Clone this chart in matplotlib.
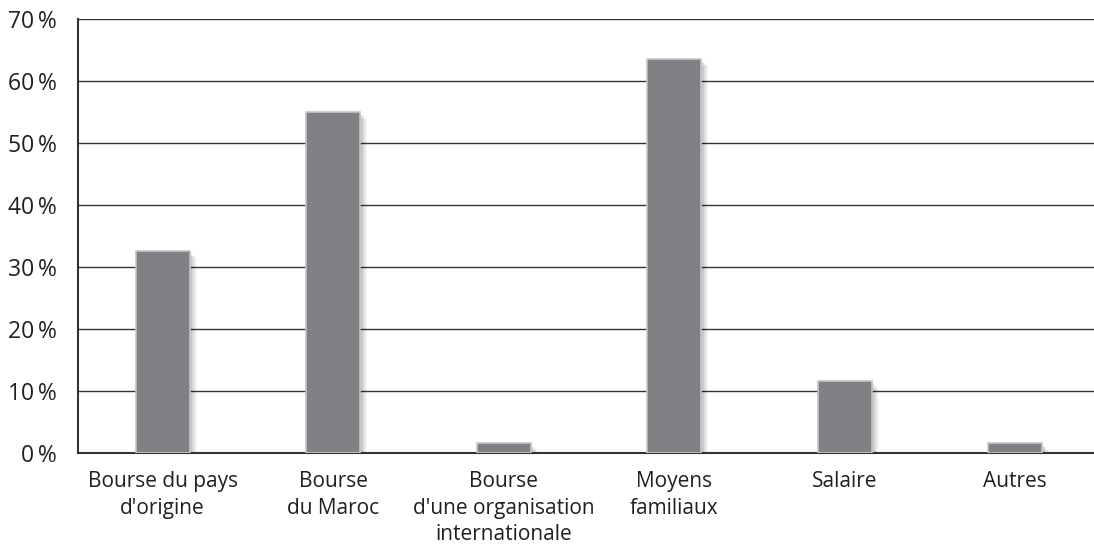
import matplotlib
matplotlib.use("Agg")
import matplotlib.pyplot as plt
import matplotlib.patheffects as pe

categories = ["Bourse du pays\nd'origine", "Bourse\ndu Maroc", "Bourse\nd'une organisation\ninternationale",
              "Moyens\nfamiliaux", "Salaire", "Autres"]
values = [32.6, 55.0, 1.6, 63.5, 11.6, 1.6]
yticks = [0, 10, 20, 30, 40, 50, 60, 70]
ytick_labels = ["0\u2009%", "10\u2009%", "20\u2009%", "30\u2009%", "40\u2009%", "50\u2009%", "60\u2009%", "70\u2009%"]

plt.rcParams['font.family'] = ['Open Sans', 'DejaVu Sans']

W, H = 1094, 547
fig = plt.figure(figsize=(W / 100, H / 100), dpi=100)
ax = fig.add_axes([78 / W, (H - 453) / H, (W - 78) / W, (453 - 19) / H])

x = list(range(len(categories)))
shadow = [pe.SimplePatchShadow(offset=(d, -d), shadow_rgbFace='black', alpha=a)
          for d, a in [(5, 0.04), (4, 0.05), (3, 0.06), (2, 0.07), (1, 0.07)]]
bars = ax.bar(x, values, width=0.317, color='#808185', edgecolor='#c4c5c7', linewidth=1.2, zorder=3)
for b in bars:
    b.set_path_effects(shadow + [pe.Normal()])

ax.set_ylim(0, 70)
ax.set_xlim(-0.496, 5.463)
ax.set_yticks(yticks)
ax.set_yticklabels(ytick_labels, fontsize=16.5, color='#231f20')
ax.set_xticks(x)
ax.set_xticklabels(categories, fontsize=15, color='#231f20', linespacing=1.35)
ax.tick_params(axis='both', length=0)
ax.tick_params(axis='y', pad=15)
ax.tick_params(axis='x', pad=13)
ax.grid(axis='y', color='#333333', linewidth=1.0, zorder=0)
for s in ['top', 'right']:
    ax.spines[s].set_visible(False)
ax.spines['left'].set_color('#333333')
ax.spines['left'].set_linewidth(1.5)
ax.spines['bottom'].set_color('#333333')
ax.spines['bottom'].set_linewidth(1.5)

fig.savefig("out.png", dpi=100)
